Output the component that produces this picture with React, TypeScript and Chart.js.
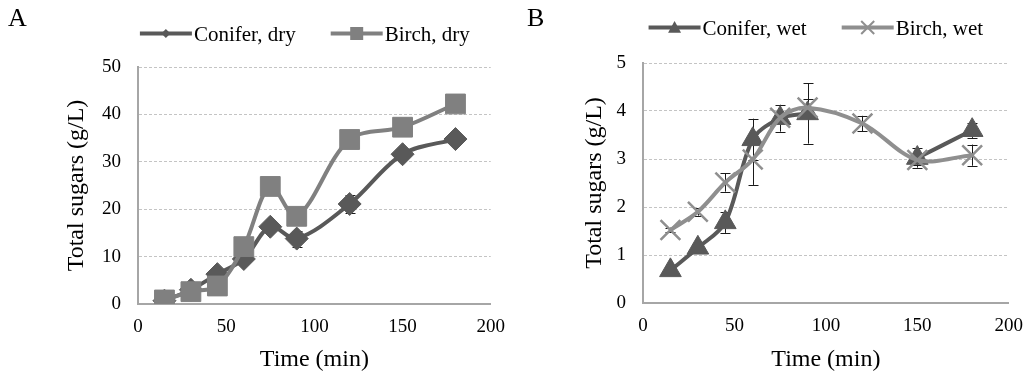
import React, { useEffect, useRef } from 'react';
import { Chart, registerables } from 'chart.js';

Chart.register(...registerables);

const FONT = "'Liberation Serif', 'Times New Roman', serif";

// ---- data ----
const times = [15, 30, 45, 60, 75, 90, 120, 150, 180];

const coniferDry = [0.7, 3.0, 6.3, 9.5, 16.3, 13.8, 21.1, 31.6, 34.8];
const coniferDryErr = [0.3, 0.7, 0.5, 0.6, 0.8, 1.7, 1.9, 0.8, 0.8];
const birchDry = [0.85, 2.6, 3.8, 12.1, 24.8, 18.5, 34.7, 37.3, 42.2];
const birchDryErr = [0.3, 0.4, 0.4, 0.8, 0.8, 0.9, 0.8, 0.8, 0.8];

const coniferWet: (number | null)[] = [0.68, 1.15, 1.68, 3.41, 3.85, 3.95, null, 3.02, 3.6];
const coniferWetErr = [0.05, 0.1, 0.22, 0.43, 0.28, 0.63, 0, 0.2, 0.16];
const birchWet: (number | null)[] = [1.52, 1.9, 2.51, 2.99, 3.86, 4.07, 3.74, 2.98, 3.08];
const birchWetErr = [0.05, 0.08, 0.19, 0.53, 0.1, 0.17, 0.16, 0.1, 0.22];

const xTickValues = [0, 50, 100, 150, 200];
const dryYTickValues = [0, 10, 20, 30, 40, 50];
const wetYTickValues = [0, 1, 2, 3, 4, 5];

const panelLabels = ['A', 'B'];
const seriesLabels = ['Conifer, dry', 'Birch, dry', 'Conifer, wet', 'Birch, wet'];
const xTitle = 'Time (min)';
const yTitle = 'Total sugars (g/L)';

// ---- drawing helpers ----
function drawMarker(ctx: CanvasRenderingContext2D, style: string, x: number, y: number, h: number, color: string) {
  ctx.save();
  ctx.fillStyle = color;
  ctx.strokeStyle = color;
  ctx.beginPath();
  if (style === 'rectRot') {
    ctx.moveTo(x, y - h); ctx.lineTo(x + h, y); ctx.lineTo(x, y + h); ctx.lineTo(x - h, y); ctx.closePath();
    ctx.fill();
  } else if (style === 'rect') {
    ctx.rect(x - h, y - h, 2 * h, 2 * h);
    ctx.fill();
  } else if (style === 'triangle') {
    ctx.moveTo(x, y - h); ctx.lineTo(x + h, y + h * 0.8); ctx.lineTo(x - h, y + h * 0.8); ctx.closePath();
    ctx.fill();
  } else if (style === 'crossRot') {
    ctx.lineWidth = 2;
    ctx.moveTo(x - h, y - h); ctx.lineTo(x + h, y + h);
    ctx.moveTo(x - h, y + h); ctx.lineTo(x + h, y - h);
    ctx.stroke();
  }
  ctx.restore();
}

const legendPlugin = {
  id: 'lineLegend',
  afterDraw(chart: any, _args: any, opts: any) {
    const { ctx, chartArea } = chart;
    const items = opts.items || [];
    ctx.save();
    ctx.font = `${opts.fontSize}px ${FONT}`;
    const widths = items.map((it: any) => opts.sampleWidth + opts.textGap + ctx.measureText(it.label).width);
    const total = widths.reduce((a: number, b: number) => a + b, 0) + opts.itemGap * (items.length - 1);
    let x = (chartArea.left + chartArea.right) / 2 + opts.shift - total / 2;
    const y = opts.y;
    items.forEach((it: any, i: number) => {
      ctx.strokeStyle = it.color;
      ctx.lineWidth = 4;
      ctx.beginPath();
      ctx.moveTo(x, y);
      ctx.lineTo(x + opts.sampleWidth, y);
      ctx.stroke();
      drawMarker(ctx, it.pointStyle, x + opts.sampleWidth / 2, y, it.legendSize, it.color);
      ctx.fillStyle = '#000';
      ctx.textBaseline = 'alphabetic';
      ctx.textAlign = 'left';
      ctx.fillText(it.label, x + opts.sampleWidth + opts.textGap, y + opts.textDy);
      x += widths[i] + opts.itemGap;
    });
    ctx.restore();
  },
};

const errorBarPlugin = {
  id: 'errorBars',
  beforeDatasetsDraw(chart: any, _args: any, opts: any) {
    const { ctx } = chart;
    const xs = chart.scales.x;
    const ys = chart.scales.y;
    ctx.save();
    ctx.strokeStyle = '#1a1a1a';
    ctx.lineWidth = 1;
    chart.data.datasets.forEach((ds: any) => {
      const errs: number[] = ds.errors || [];
      ds.data.forEach((p: any, i: number) => {
        const e = errs[i];
        if (!e || p.y === null || p.y === undefined) return;
        const px = Math.round(xs.getPixelForValue(p.x)) + 0.5;
        const top = ys.getPixelForValue(p.y + e);
        const bot = ys.getPixelForValue(p.y - e);
        ctx.beginPath();
        ctx.moveTo(px, top); ctx.lineTo(px, bot);
        ctx.moveTo(px - opts.cap, Math.round(top) + 0.5); ctx.lineTo(px + opts.cap, Math.round(top) + 0.5);
        ctx.moveTo(px - opts.cap, Math.round(bot) + 0.5); ctx.lineTo(px + opts.cap, Math.round(bot) + 0.5);
        ctx.stroke();
      });
    });
    ctx.restore();
  },
};

type SeriesDef = {
  label: string;
  values: (number | null)[];
  errors: number[];
  color: string;
  pointStyle: string;
  radius: number;
  pointBorder: number;
  legendSize: number;
  order: number;
};

type PanelDef = {
  label: string;
  left: number;
  width: number;
  yMax: number;
  yTicks: number[];
  series: SeriesDef[];
  padRight: number;
  padTop: number;
  xAxisH: number;
  yAxisW: number;
  yTitlePad: number;
  legendY: number;
  legendShift: number;
};

const DARK = '#595959';
const MID = '#808080';
const LIGHT = '#8f8f8f';

const panels: PanelDef[] = [
  {
    label: panelLabels[0], left: 0, width: 517, yMax: 50, yTicks: dryYTickValues,
    series: [
      { label: seriesLabels[0], values: coniferDry, errors: coniferDryErr, color: DARK, pointStyle: 'rectRot', radius: 11.5, pointBorder: 1, legendSize: 4.5, order: 1 },
      { label: seriesLabels[1], values: birchDry, errors: birchDryErr, color: MID, pointStyle: 'rect', radius: 14, pointBorder: 1, legendSize: 6.5, order: 0 },
    ],
    padRight: 23, padTop: 67, xAxisH: 77, yAxisW: 138, yTitlePad: 62, legendY: 33.5, legendShift: -9.5,
  },
  {
    label: panelLabels[1], left: 517, width: 518, yMax: 5, yTicks: wetYTickValues,
    series: [
      { label: seriesLabels[2], values: coniferWet, errors: coniferWetErr, color: DARK, pointStyle: 'triangle', radius: 12.5, pointBorder: 1, legendSize: 6.5, order: 1 },
      { label: seriesLabels[3], values: birchWet, errors: birchWetErr, color: LIGHT, pointStyle: 'crossRot', radius: 14, pointBorder: 2.5, legendSize: 6.5, order: 0 },
    ],
    padRight: 19, padTop: 63, xAxisH: 78, yAxisW: 126, yTitlePad: 63, legendY: 27.5, legendShift: -10,
  },
];

function makeConfig(p: PanelDef): any {
  return {
    type: 'line',
    data: {
      datasets: p.series.map((s) => ({
        label: s.label,
        data: times.map((t, i) => ({ x: t, y: s.values[i] })),
        errors: s.errors,
        borderColor: s.color,
        backgroundColor: s.color,
        borderWidth: 4,
        tension: 0.33,
        spanGaps: false,
        pointStyle: s.pointStyle,
        pointRadius: s.radius,
        pointHoverRadius: s.radius,
        pointBackgroundColor: s.color,
        pointBorderColor: s.color,
        pointBorderWidth: s.pointBorder,
        order: s.order,
        fill: false,
      })),
    },
    options: {
      animation: false,
      responsive: false,
      devicePixelRatio: 1,
      events: [],
      layout: { padding: { left: 0, right: p.padRight, top: p.padTop, bottom: 0 } },
      plugins: {
        legend: { display: false },
        tooltip: { enabled: false },
        lineLegend: {
          items: p.series.map((s) => ({ label: s.label, color: s.color, pointStyle: s.pointStyle, legendSize: s.legendSize })),
          fontSize: 21, sampleWidth: 52, textGap: 2, itemGap: 35, y: p.legendY, textDy: 7.5, shift: p.legendShift,
        },
        errorBars: { cap: 5 },
      },
      scales: {
        x: {
          type: 'linear',
          min: 0,
          max: 200,
          afterBuildTicks: (scale: any) => { scale.ticks = xTickValues.map((v) => ({ value: v })); },
          afterFit: (scale: any) => { scale.height = p.xAxisH; },
          grid: { display: false, drawTicks: false },
          border: { display: true, color: '#a6a6a6', width: 2 },
          ticks: { color: '#000', padding: 12, font: { family: FONT, size: 19 }, maxRotation: 0, autoSkip: false },
          title: { display: true, text: xTitle, color: '#000', font: { family: FONT, size: 24 }, padding: { top: 0, bottom: 7 } },
        },
        y: {
          type: 'linear',
          min: 0,
          max: p.yMax,
          afterBuildTicks: (scale: any) => { scale.ticks = p.yTicks.map((v) => ({ value: v })); },
          afterFit: (scale: any) => { scale.width = p.yAxisW; },
          grid: { display: true, color: '#c4c4c4', lineWidth: 1, drawTicks: false },
          border: { display: true, color: '#a6a6a6', width: 2, dash: [3, 2] },
          ticks: { color: '#000', padding: 17, font: { family: FONT, size: 19 } },
          title: { display: true, text: yTitle, color: '#000', font: { family: FONT, size: 24 }, padding: { top: p.yTitlePad, bottom: 0 } },
        },
      },
    },
    plugins: [legendPlugin, errorBarPlugin],
  };
}

function Panel({ p }: { p: PanelDef }) {
  const ref = useRef<HTMLCanvasElement | null>(null);
  useEffect(() => {
    if (!ref.current) return;
    const chart = new Chart(ref.current, makeConfig(p));
    return () => chart.destroy();
  }, [p]);
  return (
    <div style={{ position: 'absolute', left: p.left, top: 0, width: p.width, height: 381 }}>
      <canvas ref={ref} width={p.width} height={381} style={{ display: 'block', width: p.width, height: 381 }} />
      <div
        style={{
          position: 'absolute',
          left: p.left === 0 ? 8 : 10,
          top: 5,
          fontFamily: FONT,
          fontSize: 26,
          lineHeight: '26px',
          color: '#000',
        }}
      >
        {p.label}
      </div>
    </div>
  );
}

export default function App() {
  return (
    <div style={{ position: 'fixed', left: 0, top: 0, width: 1035, height: 381, background: '#fff', overflow: 'hidden' }}>
      {panels.map((p) => (
        <Panel key={p.label} p={p} />
      ))}
    </div>
  );
}
